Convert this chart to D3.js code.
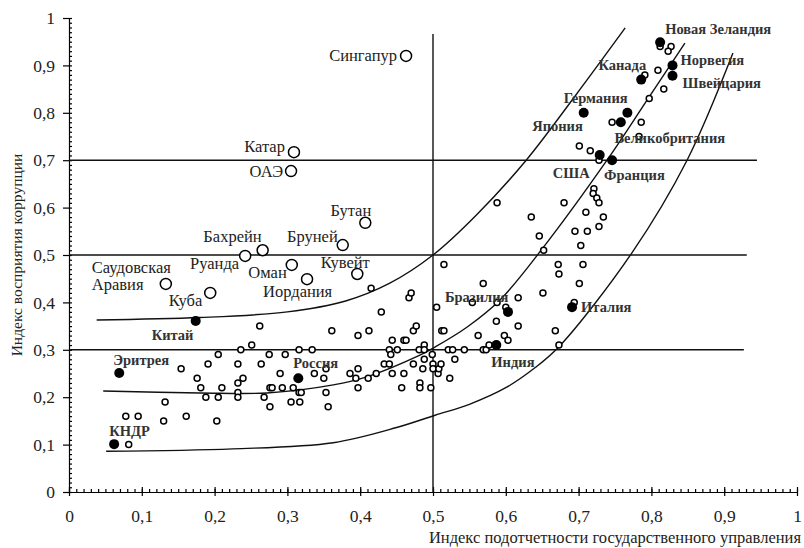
<!DOCTYPE html>
<html lang="ru">
  <head>
    <meta charset="UTF-8" />
    <title>Коррупция и подотчетность</title>
    <style>
      body { margin: 0; background: #fff; }
      text { font-family: "Liberation Serif", "DejaVu Serif", serif; fill: #222; }
      .axis path, .axis line { stroke: #000; stroke-width: 1.2px; }
      .axis text { font-size: 17.5px; }
      .ref-line, .band-line { fill: none; stroke: #111; stroke-width: 1.4px; }
      .pt { fill: #fff; stroke: #000; stroke-width: 1.5px; }
      .big { fill: #fff; stroke: #000; stroke-width: 1.5px; }
      .dot { fill: #000; }
      .lab { font-size: 16.5px; }
      .lab-b { font-size: 14.5px; font-weight: bold; fill: #333; }
      .title { font-size: 15.5px; }
      .title-x { font-size: 16.5px; }
    </style>
  </head>
  <body>
    <script src="https://cdn.jsdelivr.net/npm/d3@7"></script>
    <script>

      // --- data ---

      var xTicks = [0, 0.1, 0.2, 0.3, 0.4, 0.5, 0.6, 0.7, 0.8, 0.9, 1];
      var yTicks = [0, 0.1, 0.2, 0.3, 0.4, 0.5, 0.6, 0.7, 0.8, 0.9, 1];

      // unlabelled countries: [accountability, corruption perception]
      var others = [
        [0.078,0.16],[0.095,0.16],[0.130,0.15],[0.132,0.19],[0.161,0.16],[0.203,0.15],[0.082,0.10],
        [0.154,0.26],[0.176,0.24],[0.181,0.22],[0.188,0.20],[0.191,0.27],[0.205,0.29],[0.205,0.20],
        [0.210,0.22],[0.232,0.27],[0.232,0.23],[0.232,0.21],[0.232,0.20],[0.236,0.30],[0.239,0.24],
        [0.251,0.31],[0.262,0.35],[0.264,0.27],[0.268,0.20],[0.275,0.29],[0.276,0.18],[0.276,0.22],
        [0.279,0.22],[0.290,0.25],[0.293,0.22],[0.297,0.29],[0.305,0.19],[0.308,0.22],[0.316,0.30],
        [0.316,0.21],[0.319,0.21],[0.317,0.19],[0.334,0.30],
        [0.337,0.25],[0.353,0.26],[0.350,0.24],[0.353,0.21],[0.356,0.18],[0.361,0.34],[0.386,0.25],
        [0.394,0.24],[0.397,0.33],[0.397,0.26],[0.397,0.22],[0.411,0.24],[0.412,0.34],[0.415,0.43],
        [0.422,0.25],[0.429,0.38],[0.433,0.27],[0.440,0.27],[0.440,0.30],[0.442,0.29],[0.444,0.25],
        [0.451,0.30],[0.444,0.32],[0.457,0.22],[0.460,0.25],[0.460,0.32],[0.463,0.32],[0.467,0.41],
        [0.470,0.42],[0.473,0.27],[0.473,0.34],[0.477,0.35],[0.481,0.30],[0.482,0.23],[0.482,0.22],
        [0.488,0.31],[0.488,0.30],[0.488,0.28],[0.486,0.26],[0.497,0.22],[0.499,0.29],[0.500,0.27],
        [0.500,0.26],[0.505,0.39],[0.507,0.25],[0.508,0.26],[0.511,0.27],[0.512,0.34],[0.515,0.34],
        [0.515,0.48],[0.521,0.30],[0.523,0.24],[0.527,0.30],[0.530,0.28],[0.543,0.30],[0.554,0.40],
        [0.562,0.33],[0.569,0.44],[0.569,0.30],[0.573,0.30],[0.577,0.31],[0.587,0.36],[0.588,0.40],
        [0.588,0.61],[0.598,0.33],[0.600,0.39],[0.603,0.32],[0.617,0.41],[0.617,0.35],[0.635,0.58],
        [0.646,0.54],[0.651,0.42],[0.652,0.51],[0.668,0.34],[0.672,0.48],[0.673,0.46],[0.673,0.31],
        [0.680,0.61],[0.694,0.40],[0.701,0.44],[0.703,0.52],[0.706,0.48],[0.710,0.59],[0.695,0.55],
        [0.712,0.55],[0.728,0.56],[0.734,0.58],[0.721,0.64],[0.720,0.63],[0.725,0.62],[0.728,0.61],
        [0.701,0.73],[0.716,0.72],[0.728,0.70],[0.746,0.78],[0.786,0.78],[0.783,0.75],[0.797,0.83],
        [0.791,0.88],[0.809,0.89],[0.817,0.85],[0.812,0.94],[0.827,0.94],[0.823,0.93]
      ];

      // named countries that sit above the bands (drawn as large open circles)
      var outNames = ["Сингапур", "Катар", "ОАЭ", "Бутан", "Бахрейн", "Бруней", "Руанда",
                      "Оман", "Иордания", "Кувейт", "Саудовская|Аравия", "Куба"];
      var outX = [0.463, 0.309, 0.305, 0.407, 0.266, 0.376, 0.242, 0.306, 0.327, 0.396, 0.133, 0.194];
      var outY = [0.920, 0.717, 0.677, 0.568, 0.510, 0.521, 0.498, 0.479, 0.449, 0.460, 0.439, 0.420];

      // named countries drawn as filled dots
      var keyNames = ["Китай", "Эритрея", "КНДР", "Россия", "Бразилия", "Индия", "Италия",
                      "США", "Франция", "Германия", "Япония", "Великобритания", "Канада",
                      "Новая Зеландия", "Норвегия", "Швейцария"];
      var keyX = [0.174, 0.069, 0.062, 0.315, 0.603, 0.587, 0.691, 0.729, 0.746,
                  0.707, 0.758, 0.767, 0.786, 0.812, 0.829, 0.829];
      var keyY = [0.361, 0.251, 0.101, 0.240, 0.380, 0.310, 0.390, 0.711, 0.700,
                  0.800, 0.780, 0.800, 0.870, 0.949, 0.900, 0.878];

      // three band curves
      var upperBand = [[0.038,0.363],[0.180,0.368],[0.300,0.380],[0.380,0.403],[0.440,0.440],
                       [0.500,0.500],[0.560,0.585],[0.628,0.700],[0.695,0.835],[0.764,0.979]];
      var middleBand = [[0.047,0.213],[0.180,0.209],[0.272,0.209],[0.363,0.226],[0.409,0.243],
                        [0.482,0.289],[0.503,0.306],[0.547,0.348],[0.592,0.405],[0.651,0.515],
                        [0.739,0.700],[0.792,0.822],[0.846,0.947]];
      var lowerBand = [[0.051,0.086],[0.225,0.091],[0.363,0.104],[0.450,0.136],[0.503,0.162],
                       [0.550,0.185],[0.600,0.220],[0.640,0.262],[0.674,0.308],[0.773,0.504],
                       [0.849,0.700],[0.912,0.926]];

      // horizontal reference levels with their right ends, and the vertical split
      var refLevels = [0.3, 0.5, 0.7];
      var refEnds = [0.927, 0.931, 0.945];
      var splitX = 0.5, splitTop = 0.966;

      // --- label placement (pixels, relative to the point) ---
      var outLab = {
        "Сингапур": [-9, 5, "end"], "Катар": [-9, 0, "end"], "ОАЭ": [-8, 6, "end"],
        "Бутан": [6, -7, "end"], "Бахрейн": [-1, -8, "end"], "Бруней": [-5, -3, "end"],
        "Руанда": [-6, 13, "end"], "Оман": [-5, 13, "end"], "Иордания": [-44, 18, "start"],
        "Кувейт": [-12, -6, "middle"], "Саудовская|Аравия": [-74, -11, "start"],
        "Куба": [-8, 13, "end"]
      };
      var keyLab = {
        "Китай": [-44, 19, "start"], "Эритрея": [-6, -8, "start"], "КНДР": [-5, -8, "start"],
        "Россия": [-5, -10, "start"], "Бразилия": [-63, -10, "start"], "Индия": [-5, 22, "start"],
        "Италия": [9, 5, "start"], "США": [-10, 23, "end"], "Франция": [-8, 20, "start"],
        "Германия": [-20, -10, "start"], "Япония": [-38, 9, "end"],
        "Великобритания": [-13, 30, "start"], "Канада": [5, -10, "end"],
        "Новая Зеландия": [5, -8, "start"], "Норвегия": [8, 0, "start"],
        "Швейцария": [10, 12, "start"]
      };

      var w = 804, h = 548;
      var margin = { top: 18, right: 7, bottom: 56, left: 69 };

      var svg = d3.select("body").append("svg")
        .attr("width", w)
        .attr("height", h);

      var xScale = d3.scaleLinear()
        .domain([0, 1])
        .range([margin.left, w - margin.right]);

      var yScale = d3.scaleLinear()
        .domain([0, 1])
        .range([h - margin.bottom, margin.top]);

      var fmt = function(d) { return d === 0 || d === 1 ? String(d) : d3.format(".1f")(d).replace(".", ","); };

      // minor ticks every 0.01, on the inner side
      var minor = d3.range(0, 1.001, 0.01);

      svg.append("g")
        .attr("class", "axis")
        .attr("transform", "translate(0," + yScale(0) + ")")
        .call(d3.axisBottom(xScale).tickValues(minor).tickSize(-3).tickFormat(""))
        .call(function(g) { g.select(".domain").remove(); });

      svg.append("g")
        .attr("class", "axis")
        .attr("transform", "translate(" + xScale(0) + ",0)")
        .call(d3.axisLeft(yScale).tickValues(minor).tickSize(-3).tickFormat(""))
        .call(function(g) { g.select(".domain").remove(); });

      var xAxis = svg.append("g")
        .attr("class", "axis")
        .attr("transform", "translate(0," + yScale(0) + ")")
        .call(d3.axisBottom(xScale).tickValues(xTicks).tickSize(4).tickSizeOuter(0).tickPadding(14).tickFormat(fmt));
      xAxis.selectAll(".tick line").attr("y1", -5);

      svg.append("g")
        .attr("class", "axis")
        .attr("transform", "translate(" + xScale(0) + ",0)")
        .call(d3.axisLeft(yScale).tickValues(yTicks).tickSize(6).tickSizeOuter(0).tickPadding(8).tickFormat(fmt));

      // reference lines
      svg.selectAll(".ref-line")
        .data(refLevels)
        .enter()
        .append("line")
        .attr("class", "ref-line")
        .attr("x1", xScale(0))
        .attr("x2", function(d, i) { return xScale(refEnds[i]); })
        .attr("y1", function(d) { return yScale(d); })
        .attr("y2", function(d) { return yScale(d); });

      svg.append("line")
        .attr("class", "ref-line")
        .attr("x1", xScale(splitX))
        .attr("x2", xScale(splitX))
        .attr("y1", yScale(0))
        .attr("y2", yScale(splitTop));

      // band curves
      var line = d3.line()
        .x(function(d) { return xScale(d[0]); })
        .y(function(d) { return yScale(d[1]); })
        .curve(d3.curveCatmullRom.alpha(0.5));

      svg.selectAll(".band-line")
        .data([upperBand, middleBand, lowerBand])
        .enter()
        .append("path")
        .attr("class", "band-line")
        .attr("d", line);

      // unlabelled points
      svg.selectAll(".pt")
        .data(others)
        .enter()
        .append("circle")
        .attr("class", "pt")
        .attr("cx", function(d) { return xScale(d[0]); })
        .attr("cy", function(d) { return yScale(d[1]); })
        .attr("r", 3);

      // outliers: large open circles
      var outs = outNames.map(function(n, i) { return { name: n, x: outX[i], y: outY[i] }; });

      svg.selectAll(".big")
        .data(outs)
        .enter()
        .append("circle")
        .attr("class", "big")
        .attr("cx", function(d) { return xScale(d.x); })
        .attr("cy", function(d) { return yScale(d.y); })
        .attr("r", 5.5);

      outs.forEach(function(d) {
        var o = outLab[d.name];
        var t = svg.append("text")
          .attr("class", "lab")
          .attr("text-anchor", o[2])
          .attr("x", xScale(d.x) + o[0])
          .attr("y", yScale(d.y) + o[1]);
        d.name.split("|").forEach(function(part, k) {
          t.append("tspan")
            .attr("x", xScale(d.x) + o[0])
            .attr("dy", k === 0 ? 0 : 17)
            .text(part);
        });
      });

      // key countries: filled dots
      var keys = keyNames.map(function(n, i) { return { name: n, x: keyX[i], y: keyY[i] }; });

      svg.selectAll(".dot")
        .data(keys)
        .enter()
        .append("circle")
        .attr("class", "dot")
        .attr("cx", function(d) { return xScale(d.x); })
        .attr("cy", function(d) { return yScale(d.y); })
        .attr("r", 5);

      svg.selectAll(".lab-b")
        .data(keys)
        .enter()
        .append("text")
        .attr("class", "lab-b")
        .attr("text-anchor", function(d) { return keyLab[d.name][2]; })
        .attr("x", function(d) { return xScale(d.x) + keyLab[d.name][0]; })
        .attr("y", function(d) { return yScale(d.y) + keyLab[d.name][1]; })
        .text(function(d) { return d.name; });

      // axis titles
      svg.append("text")
        .attr("class", "title")
        .attr("text-anchor", "middle")
        .attr("transform", "translate(22," + yScale(0.5) + ") rotate(-90)")
        .text("Индекс восприятия коррупции");

      svg.append("text")
        .attr("class", "title-x")
        .attr("text-anchor", "end")
        .attr("x", 801)
        .attr("y", 543)
        .text("Индекс подотчетности государственного управления");

    </script>
  </body>
</html>
